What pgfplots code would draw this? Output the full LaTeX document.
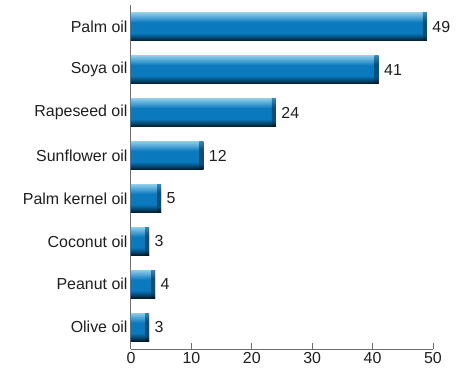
\documentclass[border=0pt]{standalone}
\usepackage{pgfplots}
\pgfplotsset{compat=1.18}
\usepackage{pgfplotstable}
\usepackage{fontspec}
\setmainfont{Liberation Sans}
\definecolor{blight}{HTML}{8CCBE8}
\definecolor{bmid}{HTML}{4FA5D6}
\definecolor{bmain}{HTML}{0A79BD}
\definecolor{bdeep}{HTML}{06466E}
\definecolor{bdark}{HTML}{03192A}
\definecolor{elight}{HTML}{3584B4}
\definecolor{emain}{HTML}{055080}
\definecolor{edark}{HTML}{01121C}
\definecolor{axgray}{HTML}{6E6E6E}
\definecolor{txt}{HTML}{1E1E1E}
\pgfdeclareverticalshading{barshade}{100bp}{color(0bp)=(bdark); color(25bp)=(bdark); color(31bp)=(bdeep); color(39bp)=(bmain); color(58bp)=(bmain); color(67bp)=(bmid); color(75bp)=(blight); color(100bp)=(blight)}
\pgfdeclareverticalshading{barend}{100bp}{color(0bp)=(edark); color(25bp)=(edark); color(35bp)=(emain); color(60bp)=(emain); color(75bp)=(elight); color(100bp)=(elight)}
\pgfdeclareplotmark{bevel}{%
  \pgfpathrectangle{\pgfpoint{-4bp}{-14bp}}{\pgfpoint{4bp}{28bp}}%
  \pgfshadepath{barend}{0}%
  \pgfusepath{discard}}
\pgfplotstableread{
y v
7 49
6 41
5 24
4 12
3 5
2 3
1 4
0 3
}\oils
\begin{document}
\begin{tikzpicture}
\begin{axis}[name=ax, scale only axis, width=302bp, height=344bp,
  xmin=0, xmax=50, ymin=-0.51, ymax=7.51,
  axis x line=bottom, axis y line=left,
  axis line style={draw=axgray, line width=1bp, -},
  xtick={0,10,...,50}, tick align=inside, major tick length=6bp,
  x tick style={draw=axgray, line width=1bp},
  ytick={0,...,7},
  yticklabels={Olive oil, Peanut oil, Coconut oil, Palm kernel oil, Sunflower oil, Rapeseed oil, Soya oil, Palm oil},
  y tick style={draw=none},
  tick label style={font=\fontsize{16}{19}\selectfont, text=txt},
  /pgf/number format/assume math mode=true,
  clip=false]
\pgfplotsforeachungrouped \yy/\vv in {7/49,6/41,5/24,4/12,3/5,2/3,1/4,0/3}{%
  \edef\doplot{\noexpand\addplot[xbar, bar width=28bp, draw=none, shade, shading=barshade, forget plot] coordinates {(\vv,\yy)};}%
  \doplot
}
\addplot[only marks, mark=bevel, nodes near coords, point meta=explicit symbolic,
  nodes near coords style={anchor=west, xshift=2bp, font=\fontsize{16}{19}\selectfont, text=txt}]
  table[x=v, y=y, meta=v]{\oils};
\end{axis}
\path (ax.south west) ++(-131bp,-23bp) rectangle ([xshift=32bp,yshift=5bp]ax.north east);
\end{tikzpicture}
\end{document}
